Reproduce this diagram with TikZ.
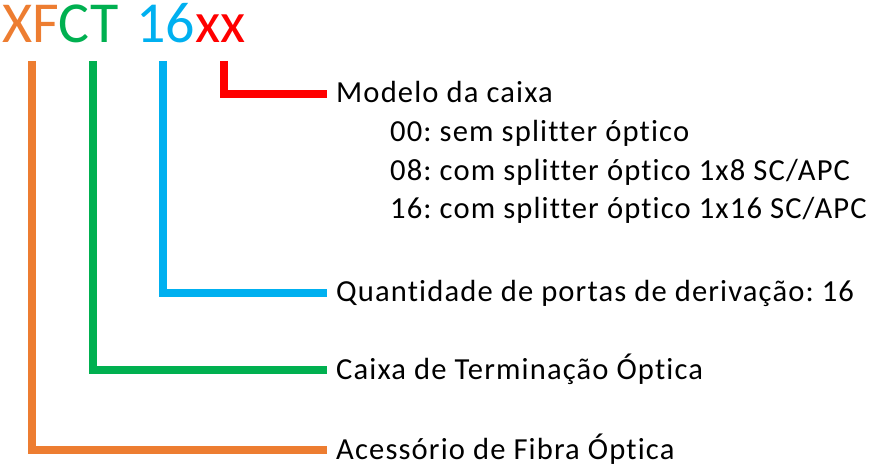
\documentclass[tikz,border=0pt]{standalone}
\usepackage{fontspec}
\setmainfont{Carlito}
\newfontfamily\lblfont[LetterSpace=3.7, Ligatures=CommonOff]{Carlito}
\usetikzlibrary{positioning}
\definecolor{acOrange}{HTML}{ED7D31}
\definecolor{acGreen}{HTML}{00B050}
\definecolor{acBlue}{HTML}{00B0F0}
\definecolor{acRed}{HTML}{FF0000}
\frenchspacing
\begin{document}
\begin{tikzpicture}
      [x=1bp, y=-1bp,
       lbl/.style={anchor=west, font=\lblfont\fontsize{30.6bp}{36bp}\selectfont,
         text height=18bp, text depth=0pt, inner xsep=9bp, inner ysep=0pt},
       sublbl/.style={anchor=base west, inner sep=0pt,
         font=\lblfont\fontsize{30.6bp}{36bp}\selectfont},
       leg/.style={line width=7.5bp}]
      \useasboundingbox (0,0) rectangle (877,471);
      \node[anchor=base west, inner sep=0pt, font=\fontsize{58bp}{70bp}\selectfont](code) at (2, 43)
        {\textcolor{acOrange}{XF}\textcolor{acGreen}{CT}\hspace{5bp} \textcolor{acBlue}{16}\textcolor{acRed}{xx}};
      \node[lbl](modelo) at (327, 94) {Modelo da caixa};
      \node[sublbl](m00) at (390, 142) {00: sem splitter óptico};
      \node[sublbl](m08) at (390, 181) {08: com splitter óptico 1x8 SC/APC};
      \node[sublbl](m16) at (390, 219) {16: com splitter óptico 1x16 SC/APC};
      \node[lbl](portas) at (327, 293) {Quantidade de portas de derivação: 16};
      \node[lbl](caixa) at (327, 370) {Caixa de Terminação Óptica};
      \node[lbl](acess) at (327, 450) {Acessório de Fibra Óptica};
      \coordinate(a) at (32, 61);
      \coordinate(b) at (93, 61);
      \coordinate(c) at (163, 61);
      \coordinate(d) at (224, 61);
      \draw[leg, acRed](d) |- (modelo.west);
      \draw[leg, acBlue](c) |- (portas.west);
      \draw[leg, acGreen](b) |- (caixa.west);
      \draw[leg, acOrange](a) |- (acess.west);
  \end{tikzpicture}
\end{document}
